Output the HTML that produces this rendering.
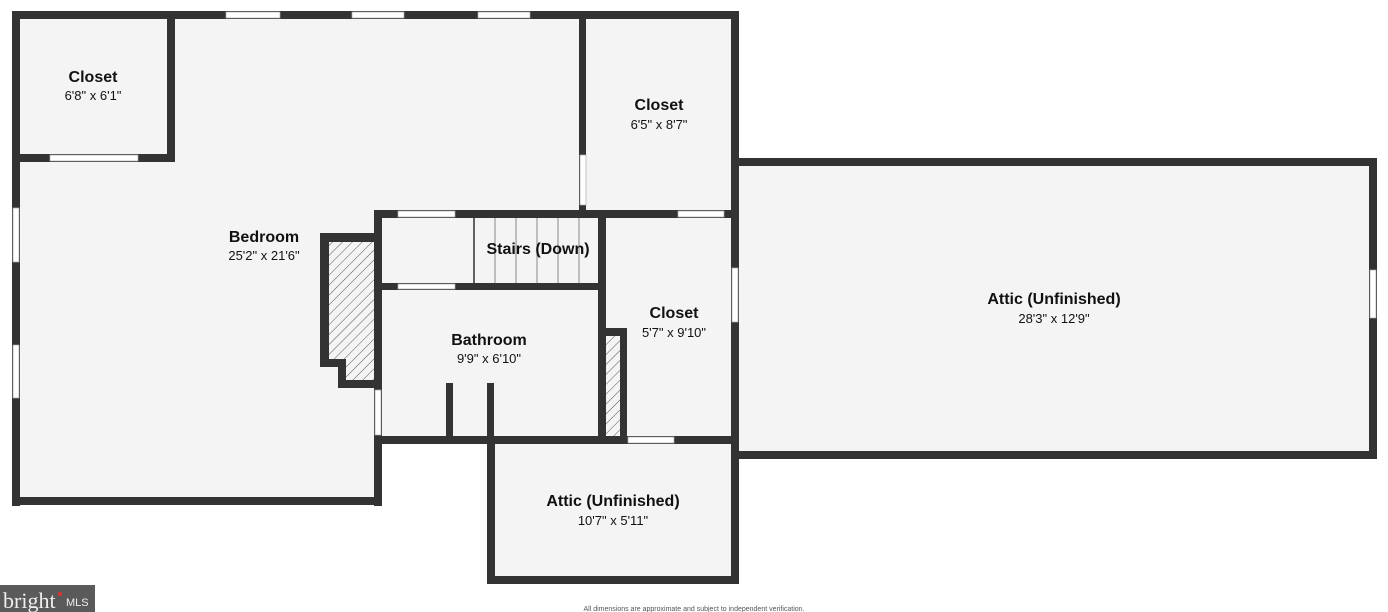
<!DOCTYPE html>
<html><head><meta charset="utf-8"><style>
html,body{margin:0;padding:0;background:#fff;}
svg{display:block;}
.t{font-family:"Liberation Sans","DejaVu Sans",sans-serif;font-weight:bold;font-size:16px;fill:#111;text-anchor:middle;}
.d{font-family:"Liberation Sans","DejaVu Sans",sans-serif;font-size:13px;fill:#111;text-anchor:middle;}
</style></head><body>
<svg width="1388" height="612" viewBox="0 0 1388 612" xmlns="http://www.w3.org/2000/svg">
<defs>
<pattern id="h" width="7" height="7" patternUnits="userSpaceOnUse" patternTransform="rotate(45)">
<rect width="7" height="7" fill="#f4f4f4"/><line x1="0" y1="0" x2="0" y2="7" stroke="#555" stroke-width="1"/>
</pattern>
</defs>
<!-- floors -->
<g fill="#f4f4f4">
<rect x="12" y="12" width="726" height="204"/>
<rect x="12" y="12" width="370" height="493"/>
<rect x="374" y="210" width="364" height="234"/>
<rect x="487" y="440" width="251" height="143"/>
<rect x="734" y="159" width="643" height="300"/>
</g>
<!-- chimneys -->
<path d="M320,233 H382 V388 H338 V367 H320 Z" fill="#333"/>
<path d="M329,242 H374 V380 H346 V359 H329 Z" fill="url(#h)"/>
<rect x="598" y="328" width="29" height="116" fill="#333"/>
<rect x="606" y="336" width="14" height="100" fill="url(#h)"/>
<!-- stairs -->
<g stroke="#888" stroke-width="1">
<line x1="474" y1="217" x2="474" y2="283" stroke="#333" stroke-width="1.5"/>
<line x1="495" y1="217" x2="495" y2="283"/>
<line x1="516" y1="217" x2="516" y2="283"/>
<line x1="537" y1="217" x2="537" y2="283"/>
<line x1="558" y1="217" x2="558" y2="283"/>
<line x1="579" y1="217" x2="579" y2="283"/>
</g>
<!-- walls -->
<g fill="#333">
<rect x="12" y="11" width="727" height="8"/>
<rect x="12" y="11" width="8" height="495"/>
<rect x="12" y="497" width="370" height="8"/>
<rect x="167" y="11" width="8" height="151"/>
<rect x="12" y="154" width="163" height="8"/>
<rect x="579" y="11" width="7" height="205"/>
<rect x="731" y="11" width="8" height="573"/>
<rect x="374" y="210" width="364" height="8"/>
<rect x="374" y="210" width="8" height="296"/>
<rect x="374" y="283" width="232" height="7"/>
<rect x="598" y="210" width="8" height="234"/>
<rect x="374" y="436" width="364" height="8"/>
<rect x="446" y="383" width="7" height="58"/>
<rect x="487" y="383" width="7" height="58"/>
<rect x="487" y="440" width="8" height="144"/>
<rect x="487" y="576" width="252" height="8"/>
<rect x="731" y="158" width="646" height="8"/>
<rect x="1369" y="158" width="8" height="301"/>
<rect x="731" y="451" width="646" height="8"/>
</g>
<!-- windows / openings -->
<g fill="#fff" stroke="#aaa" stroke-width="0.7">
<rect x="226" y="12" width="54" height="6"/>
<rect x="352" y="12" width="52" height="6"/>
<rect x="478" y="12" width="52" height="6"/>
<rect x="50" y="155" width="88" height="6"/>
<rect x="13" y="208" width="6" height="54"/>
<rect x="13" y="345" width="6" height="53"/>
<rect x="580" y="155" width="6" height="50"/>
<rect x="398" y="211" width="57" height="6"/>
<rect x="678" y="211" width="46" height="6"/>
<rect x="398" y="284" width="57" height="5"/>
<rect x="375" y="390" width="6" height="45"/>
<rect x="628" y="437" width="46" height="6"/>
<rect x="732" y="268" width="6" height="54"/>
<rect x="1370" y="270" width="6" height="48"/>
</g>
<!-- labels -->
<text class="t" x="93" y="82">Closet</text><text class="d" x="93" y="100">6'8" x 6'1"</text>
<text class="t" x="264" y="242">Bedroom</text><text class="d" x="264" y="260">25'2" x 21'6"</text>
<text class="t" x="538" y="254">Stairs (Down)</text>
<text class="t" x="659" y="110">Closet</text><text class="d" x="659" y="129">6'5" x 8'7"</text>
<text class="t" x="674" y="318">Closet</text><text class="d" x="674" y="337">5'7" x 9'10"</text>
<text class="t" x="489" y="345">Bathroom</text><text class="d" x="489" y="363">9'9" x 6'10"</text>
<text class="t" x="613" y="506">Attic (Unfinished)</text><text class="d" x="613" y="525">10'7" x 5'11"</text>
<text class="t" x="1054" y="304">Attic (Unfinished)</text><text class="d" x="1054" y="323">28'3" x 12'9"</text>
<!-- logo -->
<rect x="0" y="585" width="95" height="27" fill="#5a5a5a"/>
<text x="3" y="608" font-family="Liberation Serif,serif" font-size="22" fill="#eee">bright</text>
<circle cx="60" cy="594" r="2" fill="#d33"/>
<text x="66" y="606" font-family="Liberation Sans,sans-serif" font-size="11" fill="#eee">MLS</text>
<text x="694" y="611" font-family="Liberation Sans,sans-serif" font-size="7" fill="#555" text-anchor="middle">All dimensions are approximate and subject to independent verification.</text>
</svg>
</body></html>
